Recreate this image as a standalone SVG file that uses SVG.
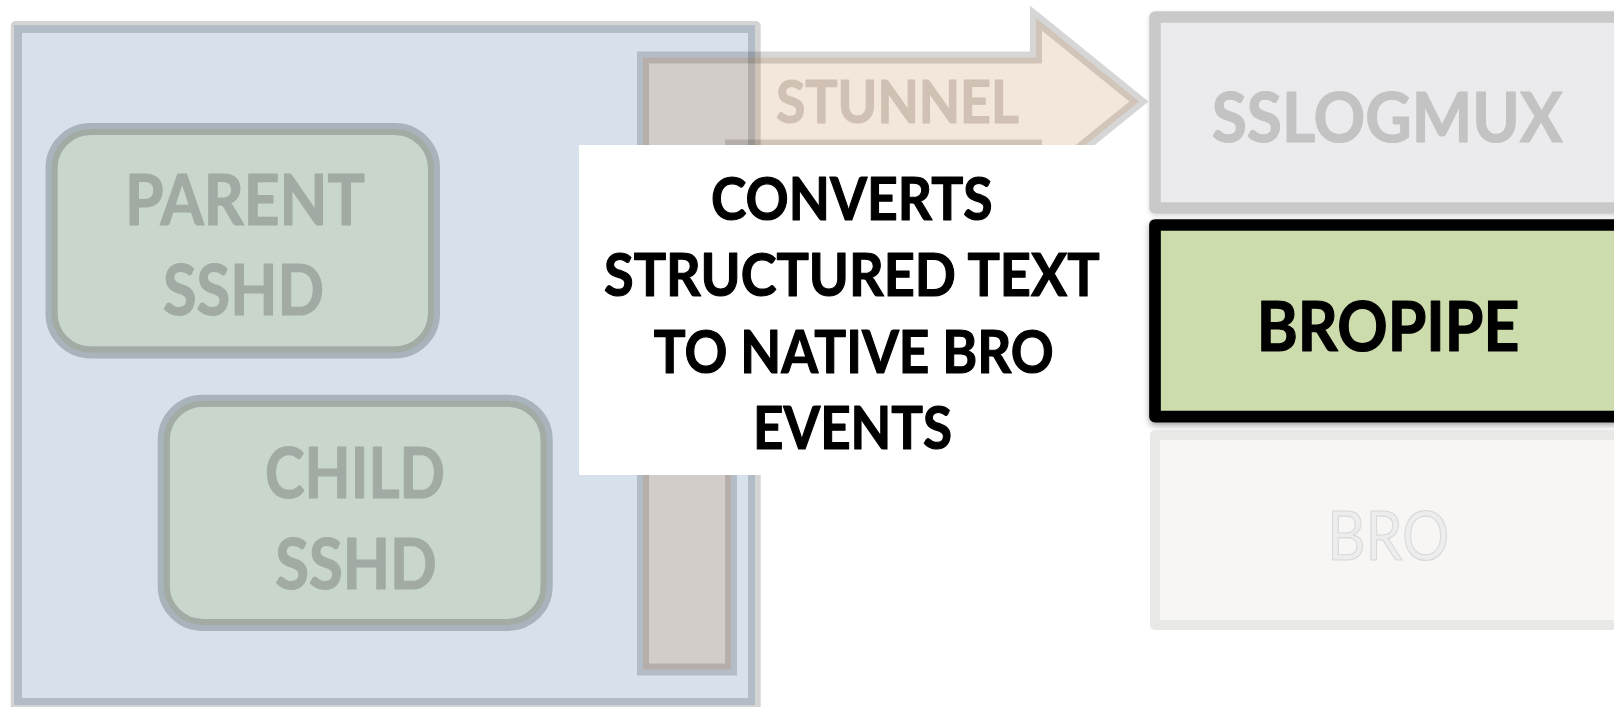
<svg xmlns="http://www.w3.org/2000/svg" width="1614" height="707" viewBox="0 0 1614 707">
<style>
  .lbl{font-family:Lato,"Liberation Sans",sans-serif;font-weight:700;text-anchor:middle;stroke-width:1.2;stroke-linejoin:round}
  .thin{font-weight:400}
  .sshd{fill:#c8d6cc;stroke:#a9b3bb;stroke-width:12}
  .sshd-in{fill:none;stroke:#a2aca5;stroke-width:6}
  .sshd-txt{font-size:70px;fill:#a1aba3;stroke:#a1aba3}
  .callout-txt{font-size:60px;fill:#000;stroke:#000}
  .stack-txt{font-size:68px}
</style>
<defs>
  <filter id="shadow" x="-5%" y="-10%" width="110%" height="130%">
    <feDropShadow dx="0" dy="3" stdDeviation="3" flood-color="#000" flood-opacity="0.35"/>
  </filter>
  <filter id="softshadow" x="-5%" y="-10%" width="110%" height="130%">
    <feDropShadow dx="0" dy="2" stdDeviation="2" flood-color="#000" flood-opacity="0.15"/>
  </filter>
  <path id="arrowShape" d="M643,57.5 H1036 V18 L1139,101.5 L1036,185 V145.5 H731 V669.5 H643 Z"/>
</defs>

<g id="host">
  <rect x="10.7" y="21" width="750" height="700" rx="5" fill="#d4d4d4"/>
  <rect x="14" y="25" width="741" height="680" fill="#b2bcc6"/>
  <rect x="22" y="33" width="726" height="665" fill="#d7e1eb"/>
</g>

<g id="parent-sshd">
  <rect class="sshd" x="51.5" y="129" width="382.5" height="223.5" rx="39"/>
  <rect class="sshd-in" x="54.5" y="132" width="376.5" height="217.5" rx="36"/>
  <text class="lbl sshd-txt" x="245" y="225" textLength="240" lengthAdjust="spacingAndGlyphs">PARENT</text>
  <text class="lbl sshd-txt" x="243.5" y="315" textLength="161" lengthAdjust="spacingAndGlyphs">SSHD</text>
</g>

<g id="child-sshd">
  <rect class="sshd" x="163.7" y="400.8" width="383" height="224.2" rx="39"/>
  <rect class="sshd-in" x="166.7" y="403.8" width="377" height="218.2" rx="36"/>
  <text class="lbl sshd-txt" x="355" y="498" textLength="180" lengthAdjust="spacingAndGlyphs">CHILD</text>
  <text class="lbl sshd-txt" x="356" y="589" textLength="161.5" lengthAdjust="spacingAndGlyphs">SSHD</text>
</g>

<g id="connectors">
  <g id="stunnel">
    <use href="#arrowShape" fill="none" stroke="rgba(0,0,0,0.16)" stroke-width="12"/>
    <use href="#arrowShape" fill="rgba(186,112,43,0.175)" stroke="none"/>
    <text class="lbl" x="897.4" y="122.5" font-size="59" fill="#d0c1b4" stroke="#d0c1b4" textLength="243" lengthAdjust="spacingAndGlyphs">STUNNEL</text>
  </g>
</g>

<g id="callout">
  <rect x="579" y="145" width="551" height="330" fill="#ffffff"/>
  <text class="lbl callout-txt" x="851.8" y="219.5" textLength="281.5" lengthAdjust="spacingAndGlyphs">CONVERTS</text>
  <text class="lbl callout-txt" x="851.8" y="296" textLength="495.6" lengthAdjust="spacingAndGlyphs">STRUCTURED TEXT</text>
  <text class="lbl callout-txt" x="853.8" y="372.5" textLength="400" lengthAdjust="spacingAndGlyphs">TO NATIVE BRO</text>
  <text class="lbl callout-txt" x="852.5" y="449" textLength="199" lengthAdjust="spacingAndGlyphs">EVENTS</text>
</g>

<g id="sslogmux">
  <rect x="1155" y="17" width="465" height="191" fill="#ebebed" stroke="#c9c9c9" stroke-width="11.5" stroke-linejoin="round" filter="url(#softshadow)"/>
  <text class="lbl stack-txt" x="1387.2" y="142.3" fill="#c3c3c3" stroke="#c3c3c3" textLength="351" lengthAdjust="spacingAndGlyphs">SSLOGMUX</text>
</g>

<g id="bropipe">
  <rect x="1155" y="225" width="465" height="191.7" fill="#cddcac" stroke="#000" stroke-width="11.7" stroke-linejoin="round" filter="url(#shadow)"/>
  <text class="lbl stack-txt" x="1388" y="350.5" fill="#000" stroke="#000" textLength="262.7" lengthAdjust="spacingAndGlyphs">BROPIPE</text>
</g>

<g id="bro">
  <rect x="1155" y="435" width="465" height="190" fill="#f7f6f4" stroke="#e8e8e7" stroke-width="10" stroke-linejoin="round"/>
  <text class="lbl thin" x="1388.3" y="559.5" font-size="68" fill="#ededed" stroke="#d9d9d9" stroke-width="1.5" textLength="122" lengthAdjust="spacingAndGlyphs">BRO</text>
</g>
</svg>
